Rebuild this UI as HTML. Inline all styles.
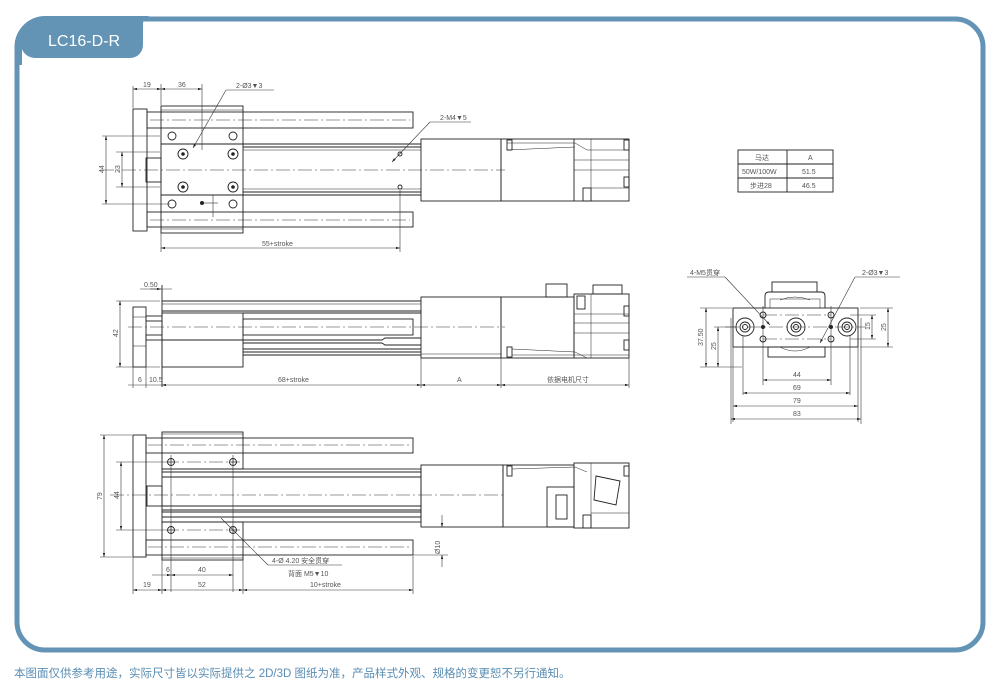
<!DOCTYPE html>
<html><head><meta charset="utf-8"><style>
html,body{margin:0;padding:0;background:#fff;width:1001px;height:694px;overflow:hidden}
svg{display:block}
.l{stroke:#222;stroke-width:0.9;fill:none}
.t{stroke:#222;stroke-width:0.5;fill:none}
.c{stroke:#333;stroke-width:0.6;fill:none;stroke-dasharray:14 3 2 3}
.d{stroke:#333;stroke-width:0.6;fill:none}
text.s{font-family:"Liberation Sans","Noto Sans CJK SC",sans-serif;font-size:7px;fill:#555}
</style></head><body>
<svg width="1001" height="694" viewBox="0 0 1001 694" xmlns="http://www.w3.org/2000/svg">
<defs>
<marker id="a" viewBox="0 0 10 6" refX="10" refY="3" markerWidth="8" markerHeight="4" orient="auto-start-reverse"><path d="M0,0L10,3L0,6z" fill="#222"/></marker>
</defs>
<!-- frame -->
<path d="M45,19 H955 A28,28 0 0 1 983,47 V622 A28,28 0 0 1 955,650 H45 A28,28 0 0 1 17,622 V47 A28,28 0 0 1 45,19 Z" fill="none" stroke="#6393b5" stroke-width="5"/>
<path d="M15,47 A30,30 0 0 1 45,16 H150 A8,8 0 0 0 143,24 V45 A13,13 0 0 1 130,58 H35 A14,14 0 0 1 21,44 Z" fill="#6393b5"/>
<rect x="15" y="40" width="7" height="25" fill="#6393b5"/>
<text x="48" y="46" font-family="Liberation Sans,sans-serif" font-size="16" fill="#fff">LC16-D-R</text>
<text x="14" y="677" font-family="'Liberation Sans','Noto Sans CJK SC',sans-serif" font-size="11.5" fill="#5a8db3">本图面仅供参考用途，实际尺寸皆以实际提供之 2D/3D 图纸为准，产品样式外观、规格的变更恕不另行通知。</text>

<!-- ===== TOP VIEW ===== -->
<rect class="l" x="133" y="109" width="14" height="122"/>
<rect class="l" x="147" y="112" width="266" height="16"/>
<rect class="l" x="147" y="212" width="266" height="15"/>
<line class="c" x1="150" y1="120" x2="410" y2="120"/>
<line class="c" x1="150" y1="220" x2="410" y2="220"/>
<rect class="l" x="161" y="106" width="82" height="127" fill="#fff"/>
<line class="t" x1="161" y1="110" x2="243" y2="110"/><line class="t" x1="161" y1="229" x2="243" y2="229"/>
<line class="l" x1="161" y1="144" x2="421" y2="144"/><line class="l" x1="243" y1="147" x2="421" y2="147"/>
<line class="l" x1="161" y1="195" x2="421" y2="195"/><line class="l" x1="243" y1="192" x2="421" y2="192"/>
<line class="t" x1="243" y1="150" x2="421" y2="150"/><line class="t" x1="243" y1="189" x2="421" y2="189"/>
<rect class="l" x="146" y="158" width="15" height="24"/>
<line class="c" x1="100" y1="170" x2="505" y2="170"/>
<g class="l"><circle cx="172" cy="136" r="4"/><circle cx="233" cy="136" r="4"/><circle cx="172" cy="204" r="4"/><circle cx="233" cy="204" r="4"/>
<circle cx="183" cy="154" r="5"/><circle cx="233" cy="154" r="5"/><circle cx="183" cy="187" r="5"/><circle cx="233" cy="187" r="5"/></g>
<g fill="#222"><circle cx="183" cy="154" r="1.8"/><circle cx="233" cy="154" r="1.8"/><circle cx="183" cy="187" r="1.8"/><circle cx="233" cy="187" r="1.8"/><circle cx="202" cy="203" r="2"/></g>
<line class="d" x1="202" y1="203" x2="218" y2="203"/><line class="d" x1="213" y1="195" x2="213" y2="217"/>
<circle class="l" cx="400" cy="154" r="2"/><circle class="l" cx="400" cy="187" r="2"/>
<rect class="l" x="421" y="139" width="80" height="62"/>
<rect class="l" x="501" y="139" width="128" height="62"/>
<line class="l" x1="574" y1="139" x2="574" y2="201"/><line class="t" x1="591" y1="139" x2="591" y2="201"/>
<path class="t" d="M507,143 L575,143 L587,150 L625,150 M507,150 L575,147"/>
<rect class="l" x="507" y="140" width="5" height="10"/><rect class="l" x="624" y="140" width="5" height="10"/><rect class="l" x="624" y="177" width="5" height="10"/>
<rect class="l" x="583" y="188" width="8" height="13"/><path class="t" d="M591,188 H629 M574,170 H629 M574,160 H629"/>
<!-- top dims -->
<line class="d" x1="133" y1="86" x2="133" y2="108"/><line class="d" x1="161" y1="84" x2="161" y2="105"/><line class="d" x1="202" y1="84" x2="202" y2="150"/>
<line class="d" x1="133" y1="89" x2="161" y2="89" marker-start="url(#a)" marker-end="url(#a)"/>
<line class="d" x1="161" y1="89" x2="202" y2="89" marker-start="url(#a)" marker-end="url(#a)"/>
<text class="s" x="143" y="87" font-size="9">19</text><text class="s" x="178" y="87">36</text>
<text class="s" x="236" y="88">2-Ø3▼3</text><line class="d" x1="226" y1="90" x2="274" y2="90"/>
<line class="d" x1="226" y1="90" x2="193" y2="148" marker-end="url(#a)"/>
<text class="s" x="440" y="120">2-M4▼5</text><line class="d" x1="430" y1="122" x2="471" y2="122"/>
<line class="d" x1="430" y1="122" x2="392" y2="162" marker-end="url(#a)"/>
<line class="d" x1="102" y1="136" x2="160" y2="136"/><line class="d" x1="102" y1="204" x2="170" y2="204"/>
<line class="d" x1="106" y1="136" x2="106" y2="204" marker-start="url(#a)" marker-end="url(#a)"/>
<line class="d" x1="116" y1="152" x2="160" y2="152"/><line class="d" x1="116" y1="187" x2="160" y2="187"/>
<line class="d" x1="122" y1="152" x2="122" y2="187" marker-start="url(#a)" marker-end="url(#a)"/>
<text class="s" transform="translate(104,173) rotate(-90)">44</text><text class="s" transform="translate(120,173) rotate(-90)">23</text>
<line class="d" x1="161" y1="233" x2="161" y2="252"/><line class="d" x1="400" y1="190" x2="400" y2="252"/>
<line class="d" x1="161" y1="248" x2="400" y2="248" marker-start="url(#a)" marker-end="url(#a)"/>
<text class="s" x="262" y="246">55+stroke</text>

<!-- ===== MIDDLE VIEW ===== -->
<rect class="l" x="133" y="307" width="13" height="60"/>
<line class="t" x1="133" y1="317" x2="146" y2="317"/><line class="t" x1="133" y1="346" x2="146" y2="346"/>
<rect class="l" x="146" y="316" width="16" height="5"/><rect class="l" x="146" y="335" width="16" height="5"/>
<line class="l" x1="162" y1="285" x2="162" y2="387" stroke-width="1.2"/>
<line class="l" x1="162" y1="301" x2="421" y2="301"/><line class="t" x1="162" y1="304" x2="421" y2="304"/>
<line class="l" x1="162" y1="311" x2="421" y2="311"/><line class="l" x1="243" y1="313" x2="421" y2="313"/>
<rect class="l" x="162" y="313" width="81" height="54"/>
<line class="l" x1="162" y1="340" x2="243" y2="340"/>
<rect class="l" x="243" y="319" width="170" height="16"/>
<path class="l" d="M243,340 H382 M243,343 H382 L385,345 H421 M382,340 L385,338 H421 M243,349 H421 M243,352 H421 M243,355 H421"/>
<line class="c" x1="128" y1="327" x2="505" y2="327"/>
<rect class="l" x="421" y="297" width="80" height="61"/>
<line class="t" x1="421" y1="354" x2="501" y2="354"/>
<rect class="l" x="501" y="297" width="73" height="61"/>
<rect class="l" x="574" y="294" width="55" height="64"/>
<rect class="l" x="546" y="284" width="21" height="13"/><rect class="l" x="593" y="285" width="29" height="9"/>
<rect class="l" x="577" y="296" width="8" height="13"/><rect class="l" x="624" y="306" width="5" height="10"/><rect class="l" x="624" y="340" width="5" height="10"/>
<rect class="l" x="507" y="347" width="5" height="10"/>
<path class="t" d="M512,349 L575,352 L587,358 M512,355 H629 M574,314 H629 M574,323 H629 M574,333 H629 M591,294 V358"/>
<!-- middle dims -->
<text class="s" x="144" y="287">0.50</text><line class="d" x1="140" y1="289" x2="172" y2="289"/>
<line class="d" x1="150" y1="289" x2="161" y2="289" marker-end="url(#a)"/>
<line class="d" x1="116" y1="301" x2="160" y2="301"/><line class="d" x1="116" y1="367" x2="160" y2="367"/>
<line class="d" x1="120" y1="301" x2="120" y2="367" marker-start="url(#a)" marker-end="url(#a)"/>
<text class="s" transform="translate(118,337) rotate(-90)">42</text>
<g class="d"><line x1="133" y1="367" x2="133" y2="388"/><line x1="146" y1="367" x2="146" y2="388"/><line x1="421" y1="358" x2="421" y2="388"/><line x1="501" y1="358" x2="501" y2="388"/><line x1="629" y1="358" x2="629" y2="388"/></g>
<line class="d" x1="162" y1="385" x2="421" y2="385" marker-start="url(#a)" marker-end="url(#a)"/>
<line class="d" x1="421" y1="385" x2="501" y2="385" marker-start="url(#a)" marker-end="url(#a)"/>
<line class="d" x1="501" y1="385" x2="629" y2="385" marker-start="url(#a)" marker-end="url(#a)"/>
<line class="d" x1="128" y1="385" x2="162" y2="385"/>
<text class="s" x="138" y="382">6</text><text class="s" x="149" y="382">10.5</text>
<text class="s" x="278" y="382">68+stroke</text><text class="s" x="457" y="382">A</text><text class="s" x="547" y="382">依据电机尺寸</text>

<!-- ===== BOTTOM VIEW ===== -->
<rect class="l" x="133" y="435" width="13" height="122"/>
<rect class="l" x="146" y="438" width="267" height="15"/>
<rect class="l" x="146" y="540" width="267" height="15"/>
<line class="c" x1="148" y1="445" x2="410" y2="445"/><line class="c" x1="148" y1="547" x2="410" y2="547"/>
<rect class="l" x="162" y="432" width="81" height="37" fill="#fff"/>
<line class="t" x1="162" y1="434" x2="243" y2="434"/>
<rect class="l" x="162" y="522" width="81" height="38" fill="#fff"/>
<line class="t" x1="162" y1="558" x2="243" y2="558"/>
<rect class="l" x="162" y="469" width="259" height="53" fill="#fff"/>
<path class="l" d="M162,472 H421 M162,477 H421 M162,506 H421 M162,510 H421 M162,512 H421 M162,517 H421"/>
<rect class="l" x="147" y="486" width="15" height="20"/>
<line class="c" x1="110" y1="495" x2="505" y2="495"/>
<line class="c" x1="165" y1="462" x2="240" y2="462"/><line class="c" x1="165" y1="530" x2="240" y2="530"/>
<g class="l"><circle cx="171" cy="462" r="3.5"/><circle cx="233" cy="462" r="3.5"/><circle cx="171" cy="530" r="3.5"/><circle cx="233" cy="530" r="3.5"/></g>
<path class="t" d="M167.5,462H174.5M171,458.5V465.5M229.5,462H236.5M233,458.5V465.5M167.5,530H174.5M171,526.5V533.5M229.5,530H236.5M233,526.5V533.5"/>
<line class="d" x1="171" y1="455" x2="171" y2="592"/><line class="d" x1="233" y1="455" x2="233" y2="592"/>
<rect class="l" x="421" y="465" width="82" height="62"/>
<rect class="l" x="503" y="465" width="71" height="62"/>
<rect class="l" x="574" y="463" width="55" height="65"/>
<rect class="l" x="547" y="487" width="27" height="40"/><rect class="l" x="556" y="495" width="11" height="24"/>
<path class="l" d="M596,476 L620,481 L616,505 L594,500 Z"/>
<path class="t" d="M591,463 V528 M591,513 H629 M512,469 L575,467 L587,472"/>
<rect class="l" x="507" y="466" width="5" height="10"/><rect class="l" x="624" y="466" width="5" height="10"/><rect class="l" x="583" y="515" width="8" height="13"/>
<!-- bottom dims -->
<line class="d" x1="100" y1="435" x2="132" y2="435"/><line class="d" x1="100" y1="557" x2="132" y2="557"/>
<line class="d" x1="104" y1="435" x2="104" y2="557" marker-start="url(#a)" marker-end="url(#a)"/>
<line class="d" x1="116" y1="462" x2="165" y2="462"/><line class="d" x1="116" y1="530" x2="165" y2="530"/>
<line class="d" x1="121" y1="462" x2="121" y2="530" marker-start="url(#a)" marker-end="url(#a)"/>
<text class="s" transform="translate(102,500) rotate(-90)">79</text><text class="s" transform="translate(119,499) rotate(-90)">44</text>
<line class="d" x1="162" y1="560" x2="162" y2="594"/><line class="d" x1="133" y1="557" x2="133" y2="594"/><line class="d" x1="243" y1="560" x2="243" y2="594"/><line class="d" x1="413" y1="556" x2="413" y2="594"/>
<line class="d" x1="152" y1="575" x2="171" y2="575" marker-end="url(#a)"/>
<line class="d" x1="171" y1="575" x2="233" y2="575" marker-start="url(#a)" marker-end="url(#a)"/>
<line class="d" x1="133" y1="590" x2="162" y2="590" marker-start="url(#a)" marker-end="url(#a)"/>
<line class="d" x1="162" y1="590" x2="243" y2="590" marker-start="url(#a)" marker-end="url(#a)"/>
<line class="d" x1="243" y1="590" x2="413" y2="590" marker-start="url(#a)" marker-end="url(#a)"/>
<text class="s" x="166" y="572">6</text><text class="s" x="198" y="572">40</text>
<text class="s" x="143" y="587">19</text><text class="s" x="198" y="587">52</text><text class="s" x="310" y="587">10+stroke</text>
<line class="d" x1="221" y1="518" x2="268" y2="565"/><line class="d" x1="268" y1="565" x2="342" y2="565"/>
<text class="s" x="272" y="563">4-Ø 4.20 安全贯穿</text>
<text class="s" x="288" y="576">背面 M5▼10</text>
<line class="d" x1="503" y1="527" x2="448" y2="527"/><line class="d" x1="413" y1="555" x2="448" y2="555"/>
<line class="d" x1="442" y1="515" x2="442" y2="527" marker-end="url(#a)"/>
<line class="d" x1="442" y1="567" x2="442" y2="555" marker-end="url(#a)"/>
<text class="s" transform="translate(440,554) rotate(-90)">Ø10</text>

<!-- ===== TABLE ===== -->
<g class="l"><rect x="738" y="150" width="95" height="42"/><line x1="738" y1="164" x2="833" y2="164"/><line x1="738" y1="178" x2="833" y2="178"/><line x1="787" y1="150" x2="787" y2="192"/></g>
<text class="s" x="755" y="160">马达</text><text class="s" x="808" y="160">A</text>
<text class="s" x="742" y="174">50W/100W</text><text class="s" x="802" y="174">51.5</text>
<text class="s" x="750" y="188">步进28</text><text class="s" x="802" y="188">46.5</text>

<!-- ===== END VIEW ===== -->
<rect class="l" x="772" y="282" width="45" height="10"/>
<path class="l" d="M765,308 V296 Q765,292 769,292 H821 Q825,292 825,296 V308"/>
<path class="t" d="M770,308 V299 H820 V308 M780,300 Q795,294 810,300"/>
<rect class="l" x="768" y="347" width="57" height="10"/>
<path class="t" d="M780,347 Q795,355 810,347"/>
<rect class="l" x="733" y="308" width="125" height="39" fill="#fff"/>
<line class="c" x1="725" y1="327" x2="866" y2="327"/>
<line class="c" x1="763" y1="315" x2="831" y2="315"/><line class="c" x1="763" y1="339" x2="831" y2="339"/>
<g class="l"><circle cx="745" cy="327" r="9"/><circle cx="745" cy="327" r="5"/><circle cx="745" cy="327" r="2.5"/>
<circle cx="796" cy="327" r="9"/><circle cx="796" cy="327" r="5"/><circle cx="796" cy="327" r="2.5"/>
<circle cx="847" cy="327" r="9"/><circle cx="847" cy="327" r="5"/><circle cx="847" cy="327" r="2.5"/>
<circle cx="763" cy="315" r="3"/><circle cx="763" cy="339" r="3"/><circle cx="831" cy="315" r="3"/><circle cx="831" cy="339" r="3"/></g>
<circle cx="763" cy="327" r="2" fill="#222"/><circle cx="831" cy="327" r="2" fill="#222"/>
<line class="d" x1="763" y1="306" x2="763" y2="385"/><line class="d" x1="831" y1="306" x2="831" y2="385"/>
<text class="s" x="690" y="275">4-M5贯穿</text><line class="d" x1="687" y1="277" x2="725" y2="277"/>
<line class="d" x1="725" y1="277" x2="770" y2="325" marker-end="url(#a)"/>
<text class="s" x="862" y="275">2-Ø3▼3</text><line class="d" x1="855" y1="277" x2="900" y2="277"/>
<line class="d" x1="855" y1="277" x2="820" y2="343" marker-end="url(#a)"/>
<g class="d"><line x1="700" y1="308" x2="732" y2="308"/><line x1="700" y1="367" x2="742" y2="367"/><line x1="714" y1="327" x2="736" y2="327"/>
<line x1="860" y1="308" x2="893" y2="308"/><line x1="860" y1="347" x2="893" y2="347"/><line x1="850" y1="315" x2="876" y2="315"/><line x1="850" y1="339" x2="876" y2="339"/>
<line x1="733" y1="347" x2="733" y2="422"/><line x1="858" y1="347" x2="858" y2="422"/><line x1="743" y1="336" x2="743" y2="395"/><line x1="850" y1="336" x2="850" y2="395"/><line x1="731" y1="318" x2="731" y2="424"/><line x1="861" y1="318" x2="861" y2="424"/></g>
<line class="d" x1="706" y1="308" x2="706" y2="367" marker-start="url(#a)" marker-end="url(#a)"/>
<line class="d" x1="718" y1="327" x2="718" y2="367" marker-start="url(#a)" marker-end="url(#a)"/>
<line class="d" x1="872" y1="315" x2="872" y2="339" marker-start="url(#a)" marker-end="url(#a)"/>
<line class="d" x1="888" y1="308" x2="888" y2="347" marker-start="url(#a)" marker-end="url(#a)"/>
<text class="s" transform="translate(703,346) rotate(-90)">37.50</text><text class="s" transform="translate(716,350) rotate(-90)">25</text>
<text class="s" transform="translate(870,330) rotate(-90)">15</text><text class="s" transform="translate(886,331) rotate(-90)">25</text>
<line class="d" x1="763" y1="380" x2="831" y2="380" marker-start="url(#a)" marker-end="url(#a)"/>
<line class="d" x1="743" y1="393" x2="850" y2="393" marker-start="url(#a)" marker-end="url(#a)"/>
<line class="d" x1="733" y1="406" x2="858" y2="406" marker-start="url(#a)" marker-end="url(#a)"/>
<line class="d" x1="731" y1="419" x2="861" y2="419" marker-start="url(#a)" marker-end="url(#a)"/>
<text class="s" x="793" y="377">44</text><text class="s" x="793" y="390">69</text><text class="s" x="793" y="403">79</text><text class="s" x="793" y="416">83</text>
</svg>
</body></html>
